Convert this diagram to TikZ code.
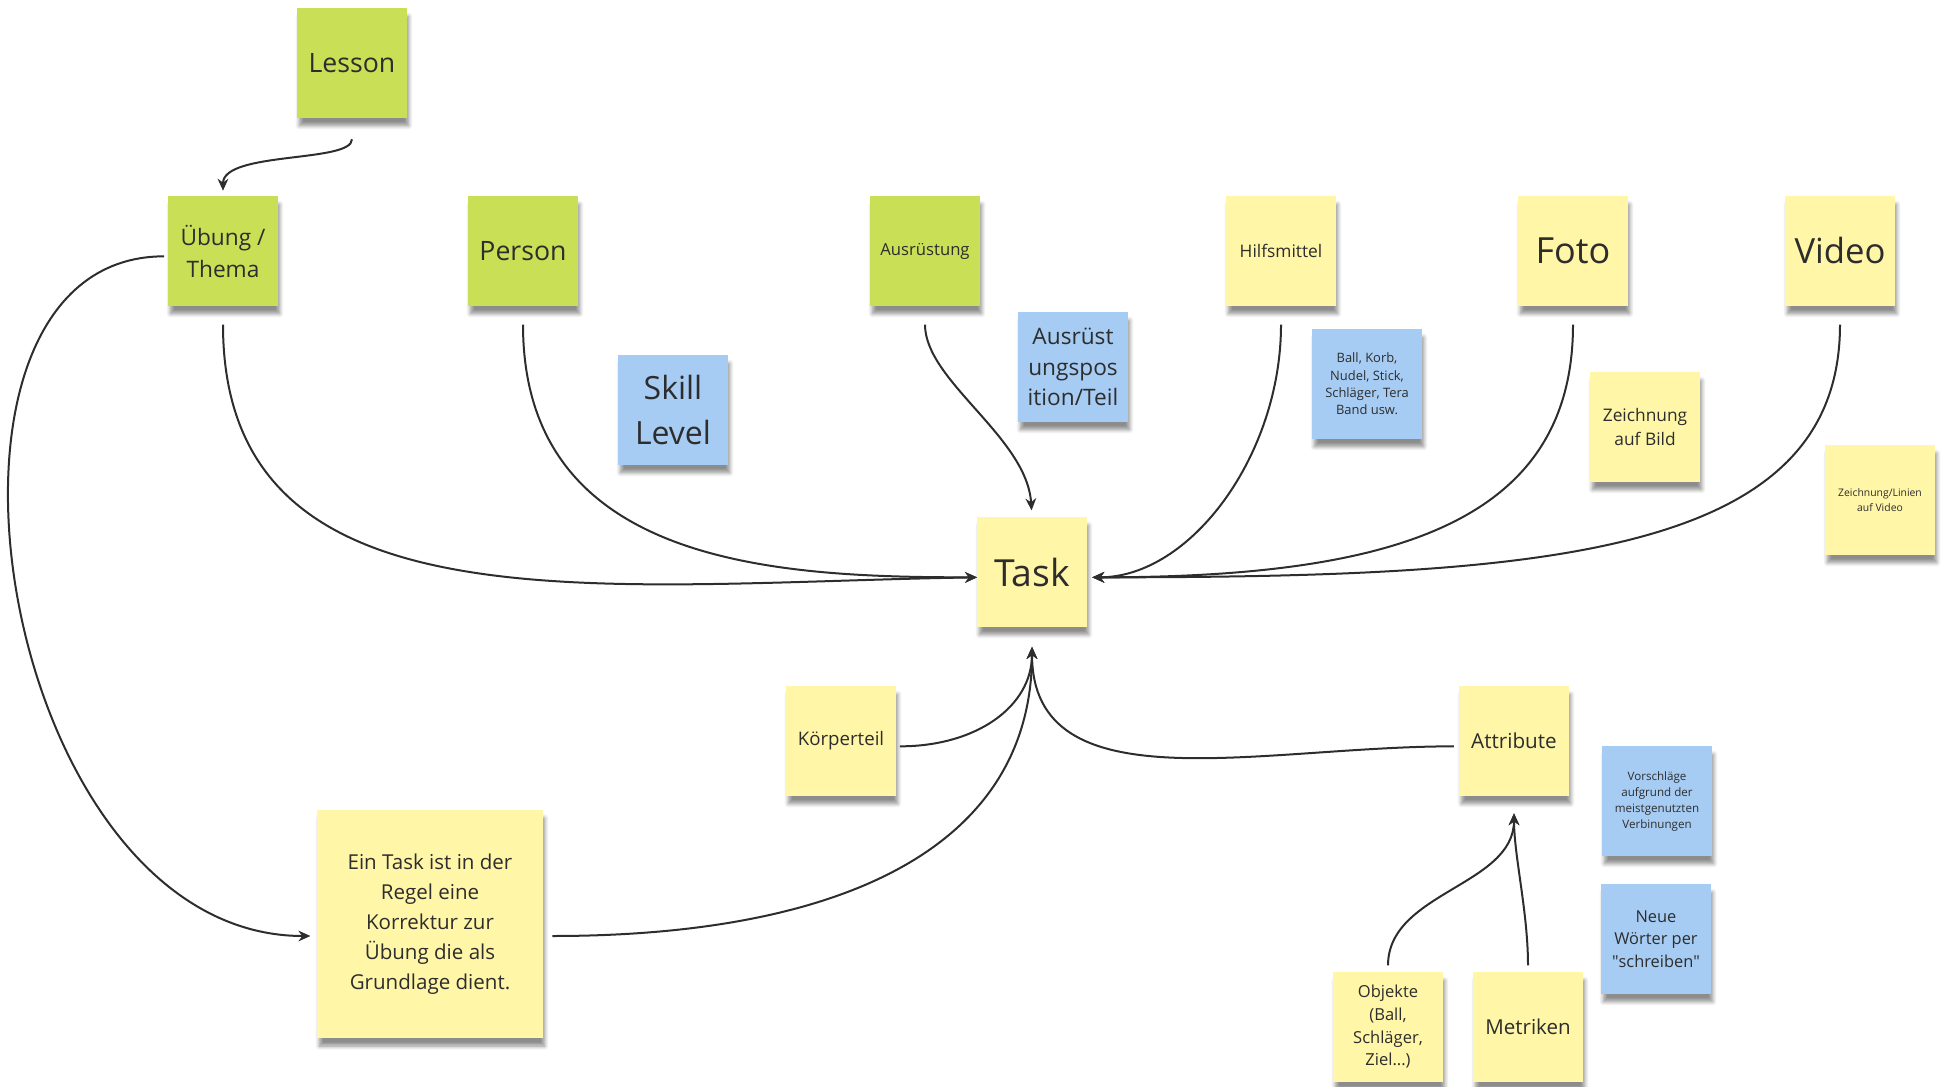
\documentclass[tikz,border=0pt]{standalone}
\usepackage{fontspec}
\setmainfont{Open Sans}
\usetikzlibrary{arrows.meta,shadows.blur}
\definecolor{notelime}{RGB}{201,223,86}
\definecolor{noteyellow}{RGB}{255,246,168}
\definecolor{noteblue}{RGB}{166,204,243}
\definecolor{inkgray}{RGB}{45,45,45}
\newcommand{\fsz}[2]{\fontsize{#1}{#2}\selectfont}

\begin{document}
\begin{tikzpicture}[x=0.75pt,y=-0.75pt,
    note/.style={minimum width=82pt,minimum height=82pt,inner sep=1pt,
      align=center,text=inkgray,
      blur shadow={shadow xshift=1.5pt,shadow yshift=-6pt,
        shadow opacity=45,shadow blur steps=6,shadow blur radius=3pt}},
    limenote/.style={note,fill=notelime},
    yellownote/.style={note,fill=noteyellow},
    bluenote/.style={note,fill=noteblue},
    link/.style={draw=inkgray,line width=1.5pt,
      -{Stealth[length=9pt,width=8pt]}}]
    \useasboundingbox (0,0) rectangle (1948,1087);

    % top row
    \node[limenote,font=\fsz{20}{24}] (lesson) at (352,63) {Lesson};
    \node[limenote,font=\fsz{17}{24}] (uebung) at (223,251) {Übung /\\Thema};
    \node[limenote,font=\fsz{20}{24}] (person) at (523,251) {Person};
    \node[limenote,font=\fsz{12.5}{15}] (ausruestung) at (925,251) {Ausrüstung};
    \node[yellownote,font=\fsz{13}{16}] (hilfsmittel) at (1281,251) {Hilfsmittel};
    \node[yellownote,font=\fsz{27}{32}] (foto) at (1573,251) {Foto};
    \node[yellownote,font=\fsz{26}{32}] (video) at (1840,251) {Video};

    % side notes
    \node[bluenote,font=\fsz{24}{34}] (skill) at (673,410) {Skill\\Level};
    \node[bluenote,font=\fsz{17}{23}] (position) at (1073,367) {Ausrüst\\ungspos\\ition/Teil};
    \node[bluenote,font=\fsz{9.7}{13}] (beispiele) at (1367,384) {Ball, Korb,\\Nudel, Stick,\\Schläger, Tera\\Band usw.};
    \node[yellownote,font=\fsz{13}{17.7}] (bildzeichnung) at (1645,427) {Zeichnung\\auf Bild};
    \node[yellownote,font=\fsz{7.8}{11}] (videozeichnung) at (1880,500) {Zeichnung/Linien\\auf Video};

    % centre
    \node[yellownote,font=\fsz{28}{32}] (task) at (1032,572) {Task};
    \node[yellownote,font=\fsz{14}{17}] (koerperteil) at (841,741) {Körperteil};
    \node[yellownote,font=\fsz{15.5}{18}] (attribute) at (1514,741) {Attribute};
    \node[bluenote,font=\fsz{8.7}{12}] (vorschlaege) at (1657,801) {Vorschläge\\aufgrund der\\meistgenutzten\\Verbinungen};
    \node[bluenote,font=\fsz{12.3}{16.7}] (neuewoerter) at (1656,939) {Neue\\Wörter per\\\textquotedbl schreiben\textquotedbl};
    \node[yellownote,font=\fsz{12.4}{17}] (objekte) at (1388,1027) {Objekte\\(Ball,\\Schläger,\\Ziel...)};
    \node[yellownote,font=\fsz{15.4}{18}] (metriken) at (1528,1027) {Metriken};
    \node[yellownote,font=\fsz{15.4}{22.6},minimum width=169pt,minimum height=171pt] (regel) at (430,924)
      {Ein Task ist in der\\Regel eine\\Korrektur zur\\Übung die als\\Grundlage dient.};

    % connectors
    \draw[link,shorten <=16pt,shorten >=4pt] (lesson.south)
      .. controls +(0,45) and +(0,-45) .. (uebung.north);
    \draw[link,shorten <=14pt] (uebung.south)
      .. controls +(0,330) and +(-377,6) .. ([yshift=-4pt]task.west);
    \draw[link,shorten <=14pt] (person.south)
      .. controls +(0,260) and +(-200,0) .. ([yshift=-4pt]task.west);
    \draw[link,shorten <=14pt,shorten >=5pt] (ausruestung.south)
      .. controls +(0,75) and +(-5,-80) .. (task.north);
    \draw[link,shorten <=14pt,shorten >=4pt] (hilfsmittel.south)
      .. controls +(0,149) and +(104,0) .. ([yshift=-4pt]task.east);
    \draw[link,shorten <=14pt,shorten >=4pt] (foto.south)
      .. controls +(0,220) and +(300,0) .. ([yshift=-4pt]task.east);
    \draw[link,shorten <=14pt,shorten >=4pt] (video.south)
      .. controls +(0,250) and +(460,0) .. ([yshift=-4pt]task.east);
    \draw[link,shorten <=3pt,shorten >=15pt] ([yshift=-4pt]koerperteil.east)
      .. controls +(80,0) and +(0,80) .. (task.south);
    \draw[link,shorten <=4pt,shorten >=15pt] ([yshift=-4pt]attribute.west)
      .. controls +(-200,0) and +(0,180) .. (task.south);
    \draw[link,shorten <=7pt,shorten >=15pt] ([yshift=-9pt]regel.east)
      .. controls +(300,0) and +(0,220) .. (task.south);
    \draw[link,shorten <=3pt,shorten >=5pt] ([yshift=-4pt]uebung.west)
      .. controls +(-274,0) and +(-321,0) .. ([yshift=-9pt]regel.west);
    \draw[link,shorten <=5pt,shorten >=13pt] (objekte.north)
      .. controls +(0,-80) and +(0,90) .. (attribute.south);
    \draw[link,shorten <=5pt,shorten >=13pt] (metriken.north)
      .. controls +(0,-60) and +(0,60) .. (attribute.south);
\end{tikzpicture}
\end{document}
